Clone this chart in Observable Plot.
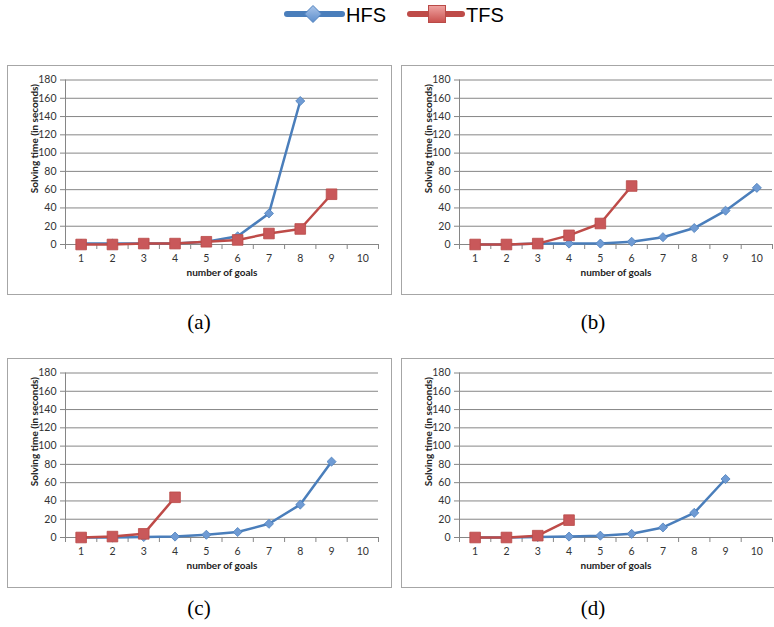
<!DOCTYPE html>
<html>
<head>
<meta charset="utf-8">
<script src="https://cdn.jsdelivr.net/npm/d3@7"></script>
<script src="https://cdn.jsdelivr.net/npm/@observablehq/plot@0.6"></script>
<style>
  html, body { margin: 0; padding: 0; background: #fff; }
  #root { position: relative; width: 774px; height: 627px; overflow: hidden; background: #fff; }
  .panel { position: absolute; width: 385px; height: 230px; }
  .frame { position: absolute; left: 0; top: 0; width: 385px; height: 230px; box-sizing: border-box; border: 1px solid #a6a6a6; pointer-events: none; }
  .panel svg { position: absolute; left: 0; top: 0; overflow: visible; }
  .cap { position: absolute; width: 60px; text-align: center; font-family: "Liberation Serif", serif; font-size: 21px; color: #000; line-height: 22px; }
  .leg { position: absolute; font-family: "Liberation Sans", sans-serif; font-size: 20px; color: #000; line-height: 20px; }
</style>
</head>
<body>
<div id="root"></div>
<script>
// ---- data ----
const goals = [1, 2, 3, 4, 5, 6, 7, 8, 9, 10];
const yTicks = [0, 20, 40, 60, 80, 100, 120, 140, 160, 180];
const seriesNames = ["HFS", "TFS"];
const panelLabels = ["(a)", "(b)", "(c)", "(d)"];

const hfsA = [1, 1, 1, 1, 3, 9, 34, 157];
const tfsA = [0, 0, 1, 1, 3, 5, 12, 17, 55];
const hfsB = [0, 0, 1, 1, 1, 3, 8, 18, 37, 62];
const tfsB = [0, 0, 1, 10, 23, 64];
const hfsC = [0, 0, 0.5, 1, 3, 6, 15, 36, 83];
const tfsC = [0, 1, 4, 44];
const hfsD = [0, 0, 0.5, 1, 2, 4, 11, 27, 64];
const tfsD = [0, 0, 2, 19];

const xTitle = "number of goals";
const yTitle = "Solving time (in seconds)";

// ---- style ----
const BLUE = "#4A7EBB", RED = "#BE4B48", GRID = "#868686";
const root = document.getElementById("root");

function toRows(vals) { return vals.map((v, i) => ({x: goals[i], y: v})); }

function panel(hfs, tfs, left, top, label, capTop) {
  const wrap = document.createElement("div");
  wrap.className = "panel";
  wrap.style.left = left + "px";
  wrap.style.top = top + "px";
  const h = toRows(hfs), t = toRows(tfs);
  const bounds = goals.map(g => g - 0.5).concat([10.5]);
  const chart = Plot.plot({
    width: 385, height: 230,
    marginLeft: 58, marginRight: 14, marginTop: 14.5, marginBottom: 51,
    style: {fontFamily: "Lato, 'Open Sans', sans-serif", fontSize: "10.5px", color: "#333", background: "transparent", overflow: "visible"},
    x: {domain: [0.5, 10.5], label: null},
    y: {domain: [0, 180], label: null},
    marks: [
      Plot.gridY(yTicks, {stroke: GRID, strokeOpacity: 1, strokeWidth: 1}),
      Plot.ruleX([0.5], {stroke: GRID, strokeWidth: 1}),
      Plot.axisY({ticks: yTicks, tickSize: 5, tickPadding: 4, stroke: GRID, strokeOpacity: 1, label: null}),
      Plot.axisX({ticks: bounds, tickSize: 5, tickFormat: () => "", stroke: GRID, strokeOpacity: 1, label: null}),
      Plot.axisX({ticks: goals, tickSize: 0, tickPadding: 10, label: null}),
      Plot.text([xTitle], {text: d => d, frameAnchor: "bottom", dy: 31, fontWeight: "bold", fontSize: 10, fill: "#222"}),
      Plot.text([yTitle], {text: d => d, frameAnchor: "top-left", rotate: -90, textAnchor: "end", dx: -35, dy: 4, fontWeight: "bold", fontSize: 10, fill: "#222"}),
      Plot.line(h, {x: "x", y: "y", stroke: BLUE, strokeWidth: 2.5, strokeLinejoin: "round", strokeLinecap: "round"}),
      Plot.dot(h, {x: "x", y: "y", symbol: "diamond2", r: 4.1, fill: "#6f9bd4", stroke: "#4F81BD", strokeWidth: 0.8}),
      Plot.line(t, {x: "x", y: "y", stroke: RED, strokeWidth: 2.5, strokeLinejoin: "round", strokeLinecap: "round"}),
      Plot.dot(t, {x: "x", y: "y", symbol: "square", r: 6, fill: "#C9585A", stroke: "#B94A47", strokeWidth: 0.8})
    ]
  });
  wrap.appendChild(chart);
  const fr = document.createElement("div");
  fr.className = "frame";
  wrap.appendChild(fr);
  root.appendChild(wrap);

  const cap = document.createElement("div");
  cap.className = "cap";
  cap.textContent = label;
  cap.style.left = (left + 192 - 30) + "px";
  cap.style.top = capTop + "px";
  root.appendChild(cap);
}

panel(hfsA, tfsA, 7, 65, panelLabels[0], 311);
panel(hfsB, tfsB, 401, 65, panelLabels[1], 311);
panel(hfsC, tfsC, 7, 358, panelLabels[2], 597);
panel(hfsD, tfsD, 401, 358, panelLabels[3], 597);

// ---- legend ----
const ns = "http://www.w3.org/2000/svg";
const leg = document.createElementNS(ns, "svg");
leg.setAttribute("width", 774); leg.setAttribute("height", 40);
leg.style.position = "absolute"; leg.style.left = "0px"; leg.style.top = "0px";
leg.innerHTML = `
  <defs>
    <linearGradient id="gb" x1="0" y1="0" x2="0" y2="1">
      <stop offset="0" stop-color="#a9c5ea"/><stop offset="1" stop-color="#5b8dcc"/>
    </linearGradient>
    <linearGradient id="gr" x1="0" y1="0" x2="0" y2="1">
      <stop offset="0" stop-color="#f0a4a2"/><stop offset="1" stop-color="#c9504d"/>
    </linearGradient>
  </defs>
  <line x1="287" y1="14" x2="342" y2="14" stroke="${BLUE}" stroke-width="6" stroke-linecap="round"/>
  <polygon points="313,5.5 321.5,14 313,22.5 304.5,14" fill="url(#gb)" stroke="#4F81BD" stroke-width="1"/>
  <line x1="410" y1="14" x2="462" y2="14" stroke="${RED}" stroke-width="6" stroke-linecap="round"/>
  <rect x="428.5" y="5.5" width="17" height="17" fill="url(#gr)" stroke="#B94A47" stroke-width="1"/>
`;
root.appendChild(leg);
[[seriesNames[0], 346], [seriesNames[1], 466]].forEach(([n, x]) => {
  const d = document.createElement("div");
  d.className = "leg";
  d.textContent = n;
  d.style.left = x + "px";
  d.style.top = "5px";
  root.appendChild(d);
});
</script>
</body>
</html>
